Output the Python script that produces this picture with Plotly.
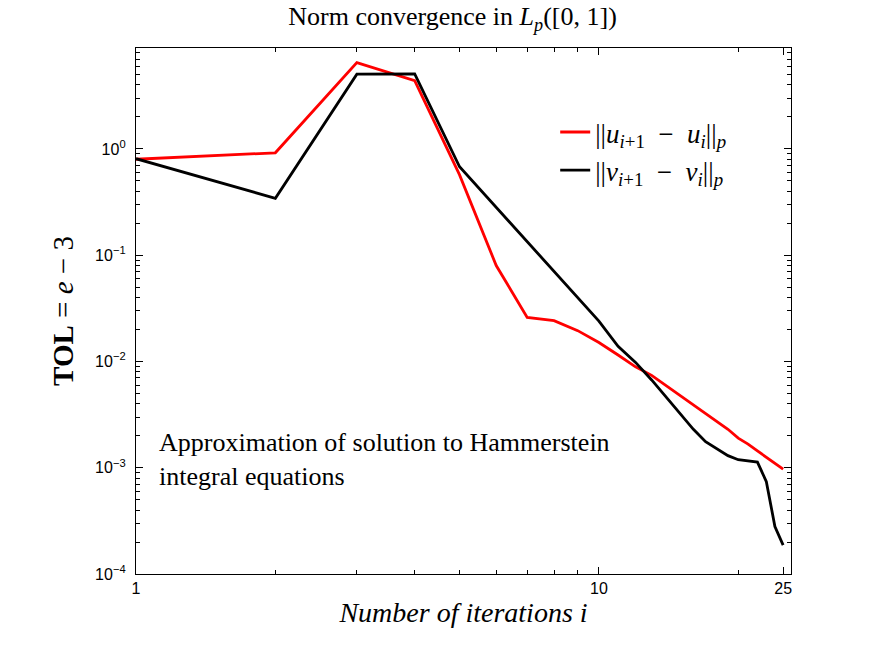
"""Norm convergence chart (log-log)."""

import numpy as np
import plotly.graph_objects as go

# Data
iterations = list(range(1, 26))

u_norm = [
    0.80, 0.92, 6.5, 4.4, 0.57, 0.080, 0.026, 0.0242, 0.0195, 0.0151,
    0.0115, 0.0089, 0.0074, 0.0059, 0.0047, 0.0039, 0.0032, 0.0027,
    0.0023, 0.0019, 0.00167, 0.00144, 0.00126, 0.00110, 0.00097,
]

v_norm = [
    0.81, 0.343, 5.05, 5.08, 0.68, 0.283, 0.136, 0.071, 0.040, 0.024,
    0.0139, 0.0098, 0.0067, 0.0046, 0.0032, 0.0023, 0.00176, 0.00150,
    0.00130, 0.00119, 0.00116, 0.00113, 0.00074, 0.00028, 0.000187,
]

x_ticks = [1, 10, 25]
x_minor = [2, 3, 4, 5, 6, 7, 8, 9, 20]
y_ticks = [1e-4, 1e-3, 1e-2, 1e-1, 1e0]
y_tick_text = ["10<sup>−4</sup>", "10<sup>−3</sup>", "10<sup>−2</sup>",
               "10<sup>−1</sup>", "10<sup>0</sup>"]
y_minor = [m * 10.0 ** e for e in range(-4, 1) for m in range(2, 10)]

SERIF = "Liberation Serif, DejaVu Serif, serif"
SANS = "Liberation Sans, Arial, sans-serif"

fig = go.Figure()

fig.add_trace(go.Scatter(
    x=iterations, y=u_norm, mode="lines",
    line={"color": "#ff0000", "width": 2.8},
    name="||<i>u</i><sub><i>i</i>+1</sub>  −  <i>u<sub>i</sub></i>||<sub><i>p</i></sub>",
    legendgroup="u",
))
fig.add_trace(go.Scatter(
    x=iterations, y=v_norm, mode="lines",
    line={"color": "#000000", "width": 2.8},
    name="||<i>v</i><sub><i>i</i>+1</sub>  −  <i>v<sub>i</sub></i>||<sub><i>p</i></sub>",
    legendgroup="v",
))

axis_common = {
    "showline": True,
    "mirror": "allticks",
    "linecolor": "black",
    "linewidth": 1.3,
    "showgrid": False,
    "zeroline": False,
    "ticks": "inside",
    "ticklen": 7,
    "tickcolor": "black",
    "tickwidth": 1,
    "tickfont": {"family": SANS, "size": 16, "color": "black"},
}

fig.update_layout(
    width=872,
    height=647,
    plot_bgcolor="white",
    paper_bgcolor="white",
    margin={"l": 136, "r": 81, "t": 48, "b": 73},
    title={
        "text": "Norm convergence in <i>L<sub>p</sub></i>([0, 1])",
        "font": {"family": SERIF, "size": 26, "color": "black"},
        "x": 0.519,
        "xanchor": "center",
        "y": 0.975,
        "yanchor": "middle",
    },
    xaxis={
        **axis_common,
        "type": "log",
        "range": [0, np.log10(26)],
        "tickvals": x_ticks,
        "ticktext": [str(v) for v in x_ticks],
        "minor": {"tickvals": x_minor, "ticks": "inside", "ticklen": 4,
                  "tickcolor": "black"},
        "title": {"text": "<i>Number of iterations i</i>",
                  "font": {"family": SERIF, "size": 28, "color": "black"},
                  "standoff": 6},
    },
    yaxis={
        **axis_common,
        "type": "log",
        "range": [-4, 0.95],
        "tickvals": y_ticks,
        "ticktext": y_tick_text,
        "ticklabelstandoff": 6,
        "minor": {"tickvals": y_minor, "ticks": "inside", "ticklen": 4,
                  "tickcolor": "black"},
        "title": {"text": "<b>TOL</b> = <i>e</i> − 3",
                  "font": {"family": SERIF, "size": 29, "color": "black"},
                  "standoff": 12},
    },
    legend={
        "x": 0.64,
        "y": 0.886,
        "xanchor": "left",
        "yanchor": "top",
        "bgcolor": "rgba(0,0,0,0)",
        "font": {"family": SERIF, "size": 27, "color": "black"},
        "tracegroupgap": 0,
        "traceorder": "grouped",
    },
    showlegend=True,
)

fig.add_annotation(
    text="Approximation of solution to Hammerstein<br>integral equations",
    xref="paper", yref="paper",
    x=0.032, y=0.217,
    xanchor="left", yanchor="middle",
    align="left",
    showarrow=False,
    font={"family": SERIF, "size": 26, "color": "black"},
)

# drop the default page margin so the figure sits at the window origin
fig.write_html(
    "out.html",
    config={"displayModeBar": False},
    post_script="document.body.style.margin = '0';",
)
